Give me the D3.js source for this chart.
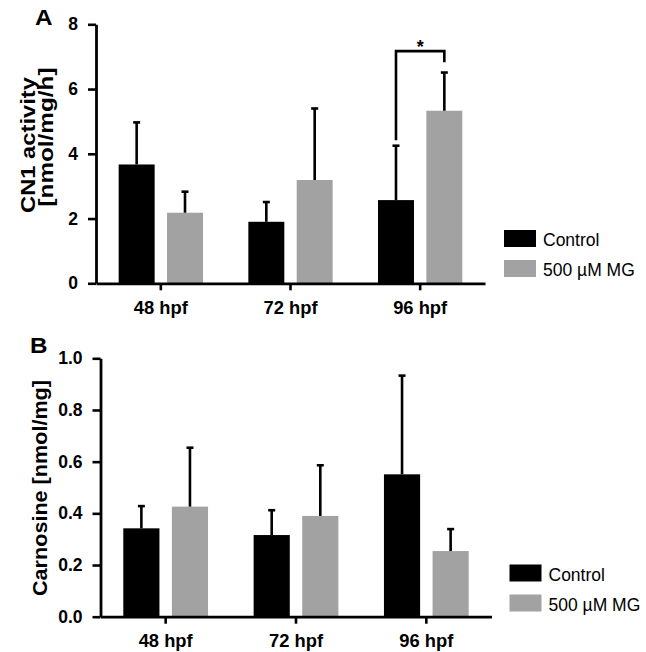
<!DOCTYPE html>
<html>
<head>
<meta charset="utf-8">
<script src="https://cdn.jsdelivr.net/npm/d3@7"></script>
<style>
  html, body { margin: 0; padding: 0; background: #fff; }
  svg { display: block; }
  text { font-family: "Liberation Sans", Arial, Helvetica, sans-serif; }
</style>
</head>
<body>
<svg id="chart" width="646" height="652"></svg>
<script>
// ---------- data ----------
const categories = ["48 hpf", "72 hpf", "96 hpf"];
const seriesNames = ["Control", "500 \u00B5M MG"];
const seriesColors = ["#000000", "#a2a2a2"];

// Panel A: CN1 activity [nmol/mg/h]
const cn1Control    = [3.67, 1.90, 2.57];
const cn1ControlErr = [1.30, 0.61, 1.68];
const cn1MG         = [2.18, 3.19, 5.33];
const cn1MGErr      = [0.65, 2.21, 1.18];
const cn1Ticks      = [0, 2, 4, 6, 8];

// Panel B: Carnosine [nmol/mg]
const carnControl    = [0.342, 0.316, 0.551];
const carnControlErr = [0.086, 0.096, 0.382];
const carnMG         = [0.426, 0.390, 0.254];
const carnMGErr      = [0.228, 0.196, 0.085];
const carnTicks      = [0.0, 0.2, 0.4, 0.6, 0.8, 1.0];

// significance bracket (panel A, 96 hpf)
const sigCategory = "96 hpf";
const sigTop = 7.17, sigLeftEnd = 4.42, sigRightEnd = 6.83, sigLabel = "*";

// ---------- drawing ----------
const svg = d3.select("#chart");

function panel(cfg) {
  const g = svg.append("g");
  const x = d3.scaleBand().domain(categories).range([cfg.x0, cfg.x1]).padding(0);
  const xs = d3.scaleBand().domain(seriesNames).range([0, x.bandwidth()])
    .paddingInner(0.256).paddingOuter(0.469);
  const y = d3.scaleLinear().domain(cfg.domain).range([cfg.yBottom, cfg.yTop]);

  const rows = [];
  categories.forEach((c, i) => {
    seriesNames.forEach((s, j) => {
      rows.push({ cat: c, ser: s, color: seriesColors[j],
        v: cfg.values[j][i], e: cfg.errs[j][i] });
    });
  });

  // bars
  g.selectAll("rect.bar").data(rows).enter().append("rect")
    .attr("class", "bar")
    .attr("x", d => x(d.cat) + xs(d.ser))
    .attr("width", xs.bandwidth())
    .attr("y", d => y(d.v))
    .attr("height", d => y(0) - y(d.v))
    .attr("fill", d => d.color);

  // error bars
  const eb = g.selectAll("g.err").data(rows).enter().append("g").attr("class", "err");
  eb.append("line")
    .attr("x1", d => x(d.cat) + xs(d.ser) + xs.bandwidth() / 2)
    .attr("x2", d => x(d.cat) + xs(d.ser) + xs.bandwidth() / 2)
    .attr("y1", d => y(d.v))
    .attr("y2", d => y(d.v + d.e))
    .attr("stroke", "#000").attr("stroke-width", 2.6);
  eb.append("line")
    .attr("x1", d => x(d.cat) + xs(d.ser) + xs.bandwidth() / 2 - 3.5)
    .attr("x2", d => x(d.cat) + xs(d.ser) + xs.bandwidth() / 2 + 3.5)
    .attr("y1", d => y(d.v + d.e))
    .attr("y2", d => y(d.v + d.e))
    .attr("stroke", "#000").attr("stroke-width", 2.6);

  // axes
  const yAxis = d3.axisLeft(y).tickValues(cfg.ticks).tickFormat(cfg.fmt)
    .tickSize(8).tickSizeOuter(0).tickPadding(10);
  const ya = g.append("g").attr("transform", `translate(${cfg.x0},0)`).call(yAxis);
  const xAxis = d3.axisBottom(x).tickSize(7).tickSizeOuter(0).tickPadding(11);
  const xa = g.append("g").attr("transform", `translate(0,${y(0)})`).call(xAxis);
  [ya, xa].forEach(a => {
    a.select(".domain").attr("stroke", "#000").attr("stroke-width", 2.8);
    a.selectAll(".tick line").attr("stroke", "#000").attr("stroke-width", 2.6);
    a.selectAll(".tick text").attr("fill", "#000")
      .style("font-size", "17.5px").style("font-weight", "bold")
      .style("font-family", "'Liberation Sans', Arial, sans-serif");
  });
  xa.selectAll(".tick text").style("font-size", "18px")
    .attr("textLength", 54).attr("lengthAdjust", "spacingAndGlyphs");

  // y title
  cfg.titleLines.forEach(t => {
    g.append("text")
      .attr("transform", `translate(${t.x},${t.y}) rotate(-90)`)
      .attr("text-anchor", "middle")
      .style("font-size", t.size + "px").style("font-weight", "bold")
      .attr("textLength", t.len).attr("lengthAdjust", "spacingAndGlyphs")
      .text(t.text);
  });

  // panel letter
  g.append("text").attr("x", cfg.letterX).attr("y", cfg.letterY)
    .style("font-size", "22px").style("font-weight", "bold")
    .attr("textLength", 17.5).attr("lengthAdjust", "spacingAndGlyphs")
    .text(cfg.letter);

  // legend
  const lg = g.append("g");
  seriesNames.forEach((s, j) => {
    lg.append("rect").attr("x", cfg.legX).attr("y", cfg.legY + j * 30)
      .attr("width", 32).attr("height", 17).attr("fill", seriesColors[j]);
    lg.append("text").attr("x", cfg.legX + 39).attr("y", cfg.legY + j * 30 + 16)
      .style("font-size", "17.5px").attr("fill", "#000").text(s);
  });

  return { x, xs, y, g };
}

const A = panel({
  x0: 96, x1: 485, yTop: 24.3, yBottom: 283.3, domain: [0, 8],
  values: [cn1Control, cn1MG], errs: [cn1ControlErr, cn1MGErr],
  ticks: cn1Ticks, fmt: d3.format("d"),
  titleLines: [
    { text: "CN1 activity", x: 35, y: 145, size: 19.5, len: 136 },
    { text: "[nmol/mg/h]", x: 53, y: 137, size: 19.5, len: 139 }
  ],
  letter: "A", letterX: 35, letterY: 25,
  legX: 504, legY: 230
});

const B = panel({
  x0: 100.5, x1: 491.5, yTop: 358.3, yBottom: 616.7, domain: [0, 1],
  values: [carnControl, carnMG], errs: [carnControlErr, carnMGErr],
  ticks: carnTicks, fmt: d3.format(".1f"),
  titleLines: [
    { text: "Carnosine [nmol/mg]", x: 47, y: 488, size: 21, len: 216 }
  ],
  letter: "B", letterX: 30, letterY: 353,
  legX: 509.5, legY: 564.5
});

// significance bracket
{
  const cx0 = A.x(sigCategory) + A.xs(seriesNames[0]) + A.xs.bandwidth() / 2;
  const cx1 = A.x(sigCategory) + A.xs(seriesNames[1]) + A.xs.bandwidth() / 2;
  const p = d3.path();
  p.moveTo(cx0, A.y(sigLeftEnd));
  p.lineTo(cx0, A.y(sigTop));
  p.lineTo(cx1, A.y(sigTop));
  p.lineTo(cx1, A.y(sigRightEnd));
  A.g.append("path").attr("d", p.toString()).attr("fill", "none")
    .attr("stroke", "#000").attr("stroke-width", 2.6);
  A.g.append("text").attr("x", (cx0 + cx1) / 2).attr("y", A.y(sigTop) + 2)
    .attr("text-anchor", "middle")
    .style("font-size", "18px").style("font-weight", "bold").text(sigLabel);
}
</script>
</body>
</html>
